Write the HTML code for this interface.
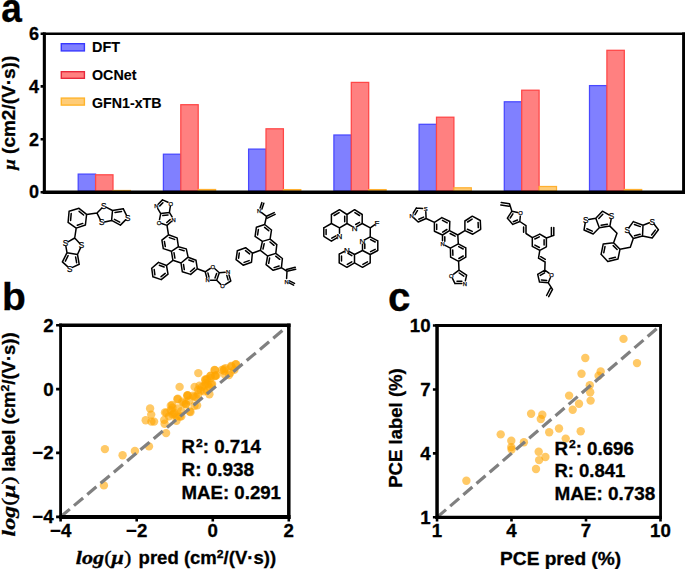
<!DOCTYPE html>
<html><head><meta charset="utf-8"><style>
html,body{margin:0;padding:0;background:#fff;}
svg{display:block;}
text{font-family:"Liberation Sans",sans-serif;font-weight:bold;fill:#000;stroke:#000;stroke-width:0.3;}
.bb{fill:#8080ff;stroke:#4848ff;stroke-width:1.25;}
.br{fill:#ff8080;stroke:#ff4646;stroke-width:1.25;}
.bo{fill:#ffcc77;stroke:#ffb030;stroke-width:1.25;}
.ax{fill:none;stroke:#000;stroke-width:2.9;}
.tk{stroke:#000;stroke-width:2.6;}
.dash{stroke:#808080;stroke-width:3.2;stroke-dasharray:11.9 5.45;fill:none;}
.dots circle{fill:rgba(255,165,0,0.6);}
.serif{font-family:"Liberation Serif",serif;}
.lg text{stroke-width:0.12;}
.mol{fill:none;stroke:#000;stroke-width:1.5;stroke-linejoin:round;stroke-linecap:round;}
.mt{font-family:"Liberation Sans",sans-serif;font-weight:normal;fill:#000;stroke:#000;stroke-width:0.25;}
</style></head><body>
<svg width="685" height="569" viewBox="0 0 685 569">
<!-- panel letters -->
<text x="1.3" y="22" font-size="40" textLength="20.6" lengthAdjust="spacingAndGlyphs">a</text>
<text x="2" y="310.3" font-size="39">b</text>
<text x="388" y="311" font-size="40" textLength="22.4" lengthAdjust="spacingAndGlyphs">c</text>

<!-- Panel a -->
<rect class="bb" x="78.2" y="174.1" width="17.4" height="16.9"/><rect class="br" x="95.6" y="174.8" width="17.4" height="16.2"/><rect class="bo" x="113.0" y="190.5" width="17.4" height="0.5"/><rect class="bb" x="163.4" y="154.2" width="17.4" height="36.8"/><rect class="br" x="180.8" y="104.7" width="17.4" height="86.3"/><rect class="bo" x="198.2" y="189.5" width="17.4" height="1.5"/><rect class="bb" x="248.6" y="149.1" width="17.4" height="41.9"/><rect class="br" x="266.0" y="128.8" width="17.4" height="62.2"/><rect class="bo" x="283.4" y="189.6" width="17.4" height="1.4"/><rect class="bb" x="333.9" y="135.0" width="17.4" height="56.0"/><rect class="br" x="351.3" y="82.4" width="17.4" height="108.6"/><rect class="bo" x="368.7" y="189.6" width="17.4" height="1.4"/><rect class="bb" x="419.1" y="124.3" width="17.4" height="66.7"/><rect class="br" x="436.5" y="117.2" width="17.4" height="73.8"/><rect class="bo" x="453.9" y="187.8" width="17.4" height="3.2"/><rect class="bb" x="504.3" y="101.8" width="17.4" height="89.2"/><rect class="br" x="521.7" y="90.2" width="17.4" height="100.8"/><rect class="bo" x="539.1" y="186.5" width="17.4" height="4.5"/><rect class="bb" x="589.5" y="85.6" width="17.4" height="105.4"/><rect class="br" x="606.9" y="50.3" width="17.4" height="140.7"/><rect class="bo" x="624.3" y="189.5" width="17.4" height="1.5"/>
<g stroke="#000" fill="none"><path stroke-width="2.6" d="M42.80,33.75H685.10"/><path stroke-width="3.3" d="M42.80,192.25H685.10"/><path stroke-width="3.1" d="M44.35,32.45V193.90"/><path stroke-width="3.0" d="M683.6,32.45V193.90"/></g>
<path class="tk" d="M40.6,192.2H44.3M40.6,139.3H44.3M40.6,86.4H44.3M40.6,33.7H44.3"/>
<g font-size="18" text-anchor="end">
<text x="39" y="198.4">0</text><text x="39" y="145.5">2</text><text x="39" y="92.6">4</text><text x="39" y="39.9">6</text>
</g>
<text transform="translate(14.6,112.8) rotate(-90)" font-size="17.5" text-anchor="middle" textLength="114" lengthAdjust="spacingAndGlyphs"><tspan class="serif" font-style="italic">μ</tspan> (cm2/(V·s))</text>
<!-- legend -->
<rect class="bb" x="61.3" y="43.7" width="23.1" height="7.2" style="stroke:#3838ff;stroke-width:1.4"/>
<rect class="br" x="61.3" y="71.7" width="23.1" height="6.6" style="stroke:#e8283c;stroke-width:1.4"/>
<rect class="bo" x="61.3" y="98.1" width="23.1" height="7.0" style="stroke:#ffb42c;stroke-width:1.4"/>
<g font-size="14.2" class="lg"><text x="92" y="51.7" textLength="28" lengthAdjust="spacingAndGlyphs">DFT</text><text x="92" y="80.2" textLength="44.5" lengthAdjust="spacingAndGlyphs">OCNet</text><text x="92" y="107.8" textLength="69.5" lengthAdjust="spacingAndGlyphs">GFN1-xTB</text></g>

<!-- molecules -->
<g class="mol"><path d="M79.0,208.3L86.6,214.4M86.6,214.4L85.4,225.0M85.4,225.0L76.2,228.1M76.2,228.1L68.1,222.4M68.1,222.4L69.1,211.2M69.1,211.2L79.0,208.3M79.0,208.3L86.6,214.4M79.1,211.3L83.6,215.0M69.1,211.2L68.1,222.4M71.2,213.6L70.6,220.4M85.4,225.0L76.2,228.1M82.8,223.4L77.3,225.3M86.6,214.4L97.0,213.1M97.0,213.1L101.7,208.2M106.5,207.4L112.5,210.5M97.0,213.1L100.4,219.8M104.6,221.9L111.6,220.4M112.5,210.5L111.6,220.4M123.3,208.8L126.4,215.1M125.6,219.9L120.4,225.1M112.5,210.5L123.3,208.8M115.0,212.4L121.5,211.4M111.6,220.4L120.4,225.1M114.4,219.3L119.7,222.1M76.2,228.1L74.7,238.0M74.7,238.0L68.0,241.9M65.9,246.4L67.0,252.7M74.7,238.0L79.6,243.2M80.4,248.1L77.5,254.5M67.0,252.7L77.5,254.5M62.4,261.9L67.6,266.6M72.5,267.4L79.2,264.3M67.0,252.7L62.4,261.9M68.1,255.6L65.4,261.1M77.5,254.5L79.2,264.3M75.6,256.9L76.6,262.7M158.4,204.0L162.5,199.9M162.5,199.9L168.0,202.3M170.3,206.5L169.4,212.4M169.4,212.4L160.7,213.6M160.7,213.6L157.8,208.7M160.7,213.6L159.5,219.6M161.7,223.5L167.0,225.4M167.0,225.4L171.4,221.5M172.1,216.9L169.4,212.4M158.4,204.0L162.5,199.9M159.8,205.9L162.9,202.8M169.4,212.4L160.7,213.6M168.0,214.9L162.8,215.6M167.0,225.4L171.4,221.5M166.8,222.5L170.1,219.6M168.5,234.8L177.1,237.9M177.1,237.9L178.4,246.7M178.4,246.7L171.4,251.3M171.4,251.3L163.3,248.6M163.3,248.6L161.9,240.1M161.9,240.1L168.5,234.8M178.4,246.7L186.3,248.9M186.3,248.9L188.1,257.2M188.1,257.2L181.0,263.0M181.0,263.0L172.9,260.3M172.9,260.3L171.4,251.3M188.1,257.2L196.0,260.3M196.0,260.3L197.3,268.7M197.3,268.7L190.7,274.4M190.7,274.4L182.3,271.7M182.3,271.7L181.0,263.0M168.5,234.8L177.1,237.9M169.4,237.6L174.6,239.4M163.3,248.6L161.9,240.1M165.3,246.5L164.4,241.4M178.4,246.7L186.3,248.9M179.4,249.4L184.1,250.7M172.9,260.3L171.4,251.3M174.9,258.1L174.0,252.7M188.1,257.2L196.0,260.3M188.8,260.0L193.6,261.8M197.3,268.7L190.7,274.4M194.5,268.1L190.5,271.5M182.3,271.7L181.0,263.0M184.3,269.6L183.5,264.4M167.0,225.4L168.5,234.8M166.5,265.5L158.5,262.4M158.5,262.4L151.7,268.2M151.7,268.2L152.9,276.8M152.9,276.8L161.2,279.6M161.2,279.6L168.0,274.1M168.0,274.1L166.5,265.5M172.9,260.3L166.5,265.5M166.5,265.5L158.5,262.4M164.1,267.0L159.3,265.2M151.7,268.2L152.9,276.8M154.2,269.6L154.9,274.8M161.2,279.6L168.0,274.1M161.1,276.7L165.2,273.4M197.3,268.7L205.2,271.8M205.2,271.8L210.2,268.5M214.9,268.8L219.3,272.7M219.3,272.7L216.7,280.3M216.7,280.3L210.5,280.3M206.7,277.4L205.2,271.8M219.3,272.7L225.2,272.3M229.0,275.0L230.8,281.0M230.8,281.0L225.1,284.6M220.5,284.1L216.7,280.3M205.2,271.8L206.7,277.4M207.9,272.9L209.0,277.1M219.3,272.7L216.7,280.3M216.6,273.5L215.0,278.0M229.0,275.0L230.8,281.0M226.8,275.4L228.1,279.9M264.7,224.5L271.5,230.0M271.5,230.0L270.1,239.1M270.1,239.1L262.4,241.4M262.4,241.4L255.1,236.4M255.1,236.4L256.4,227.2M256.4,227.2L264.7,224.5M264.7,224.5L271.5,230.0M264.6,227.4L268.7,230.7M255.1,236.4L256.4,227.2M257.6,234.9L258.4,229.4M270.1,239.1L276.8,244.7M276.8,244.7L275.8,253.4M275.8,253.4L267.6,256.0M267.6,256.0L260.4,250.3M260.4,250.3L262.4,241.4M270.1,239.1L276.8,244.7M270.0,242.0L274.0,245.3M260.4,250.3L262.4,241.4M263.0,249.0L264.2,243.7M275.8,253.4L282.4,258.5M282.4,258.5L281.4,267.7M281.4,267.7L273.2,270.3M273.2,270.3L266.1,264.6M266.1,264.6L267.6,256.0M275.8,253.4L282.4,258.5M275.7,256.2L279.7,259.3M281.4,267.7L273.2,270.3M279.1,266.0L274.1,267.6M266.1,264.6L267.6,256.0M268.7,263.3L269.6,258.1M264.7,224.5L266.5,216.3M266.5,216.3L261.6,212.6M266.5,216.3L274.2,212.6M267.4,218.1L275.1,214.4M260.1,208.0L261.9,202.6M261.9,209.0L263.8,203.2M281.4,267.7L287.0,271.3M287.0,271.3L286.6,278.5M287.0,271.3L295.7,269.2M286.5,269.4L295.2,267.3M289.2,282.9L293.6,285.1M289.5,280.8L294.5,283.3M252.4,253.2L245.6,247.7M245.6,247.7L237.3,250.8M237.3,250.8L236.1,259.7M236.1,259.7L243.2,265.2M243.2,265.2L251.5,262.2M251.5,262.2L252.4,253.2M260.4,250.3L252.4,253.2M252.4,253.2L245.6,247.7M249.6,253.9L245.5,250.6M237.3,250.8L236.1,259.7M239.3,252.9L238.6,258.2M243.2,265.2L251.5,262.2M244.1,262.4L249.1,260.6M331.4,214.5L339.5,209.7M339.5,209.7L347.0,214.5M347.0,214.5L347.0,223.5M347.0,223.5L339.5,227.8M339.5,227.8L331.4,223.5M331.4,223.5L331.4,214.5M347.0,214.5L354.6,209.7M354.6,209.7L362.2,214.5M362.2,214.5L362.2,223.5M362.2,223.5L357.2,226.3M352.0,226.3L347.0,223.5M331.4,223.5L323.8,227.8M323.8,227.8L323.8,236.3M323.8,236.3L331.4,241.1M331.4,241.1L336.9,237.8M339.5,233.3L339.5,227.8M331.4,214.5L339.5,209.7M334.2,215.5L339.1,212.6M347.0,214.5L347.0,223.5M344.7,216.3L344.7,221.7M354.6,209.7L362.2,214.5M354.9,212.6L359.5,215.5M362.2,223.5L357.2,226.3M359.5,222.4L355.7,224.5M323.8,227.8L323.8,236.3M326.1,229.5L326.1,234.6M331.4,241.1L336.9,237.8M331.8,238.2L335.9,235.8M362.2,223.5L370.3,227.8M370.3,227.8L374.5,224.8M370.2,236.8L377.8,240.8M377.8,240.8L377.8,250.5M377.8,250.5L370.2,254.5M370.2,254.5L362.5,250.5M362.5,250.5L362.5,244.2M365.1,239.7L370.2,236.8M362.5,250.5L370.2,254.5M370.2,254.5L370.2,262.9M370.2,262.9L362.5,267.3M362.5,267.3L354.5,262.9M354.5,262.9L354.5,254.5M354.5,254.5L362.5,250.5M354.5,254.5L349.5,251.6M344.2,251.5L339.2,254.1M339.2,254.1L339.2,262.9M339.2,262.9L346.9,267.3M346.9,267.3L354.5,262.9M370.2,236.8L377.8,240.8M370.6,239.6L375.2,242.0M377.8,250.5L370.2,254.5M375.2,249.3L370.6,251.7M362.5,244.2L362.5,250.5M364.8,244.0L364.8,248.6M370.2,262.9L362.5,267.3M367.5,261.8L362.9,264.4M339.2,254.1L339.2,262.9M341.5,255.9L341.5,261.1M346.9,267.3L354.5,262.9M347.3,264.4L351.8,261.8M354.5,254.5L349.5,251.6M351.8,255.6L348.0,253.4M370.3,227.8L370.2,236.8M416.4,207.9L422.6,208.5M425.8,211.8L426.1,218.5M426.1,218.5L418.2,222.0M418.2,222.0L413.8,217.9M413.2,213.2L416.4,207.9M426.1,218.5L418.2,222.0M423.6,217.1L418.8,219.2M413.2,213.2L416.4,207.9M415.0,214.6L417.4,210.7M434.4,222.4L441.9,217.6M441.9,217.6L449.8,221.5M449.8,221.5L449.5,230.6M449.5,230.6L442.5,235.0M442.5,235.0L434.4,231.2M434.4,231.2L434.4,222.4M426.1,218.5L434.4,222.4M441.9,217.6L449.8,221.5M442.5,220.4L447.2,222.8M434.4,231.2L434.4,222.4M436.7,229.4L436.7,224.2M449.5,230.6L442.5,235.0M446.9,229.5L442.7,232.2M449.5,230.6L457.8,235.0M457.8,235.0L458.3,243.8M458.3,243.8L450.4,248.2M450.4,248.2L445.1,245.3M442.5,240.8L442.5,235.0M449.5,230.6L457.8,235.0M450.1,233.5L455.1,236.2M442.5,240.8L442.5,235.0M444.8,241.2L444.8,236.8M458.3,243.8L465.8,247.8M465.8,247.8L465.8,257.2M465.8,257.2L458.6,261.3M458.6,261.3L450.6,257.2M450.6,257.2L450.4,248.2M458.3,243.8L465.8,247.8M458.7,246.6L463.2,249.0M465.8,257.2L458.6,261.3M463.2,256.0L458.9,258.5M450.6,257.2L450.4,248.2M452.9,255.3L452.7,249.9M464.9,230.6L464.9,221.0M464.9,221.0L472.3,216.2M472.3,216.2L480.3,220.5M480.3,220.5L480.7,229.3M480.7,229.3L472.8,234.2M472.8,234.2L464.9,230.6M457.8,235.0L464.9,230.6M464.9,221.0L472.3,216.2M467.6,222.0L472.1,219.1M480.3,220.5L480.7,229.3M478.1,222.4L478.3,227.6M472.8,234.2L464.9,230.6M472.2,231.4L467.4,229.2M458.6,261.3L459.0,270.1M459.0,270.1L453.7,274.1M452.6,278.6L455.0,283.6M455.0,283.6L461.8,283.6M465.4,280.7L466.6,275.2M466.6,275.2L459.0,270.1M459.0,270.1L466.6,275.2M459.2,273.0L463.8,276.1M455.0,283.6L461.8,283.6M457.0,281.3L461.9,281.3M509.5,203.8L501.2,202.5M509.1,206.2L500.8,204.9M509.5,203.8L511.9,211.2M511.9,211.2L517.7,212.6M520.3,216.3L519.8,221.5M519.8,221.5L512.8,224.4M512.8,224.4L507.4,218.2M507.4,218.2L511.9,211.2M507.4,218.2L511.9,211.2M510.2,218.0L512.9,213.8M519.8,221.5L512.8,224.4M517.5,220.0L513.3,221.7M519.8,221.5L526.0,225.7M526.0,225.7L526.0,233.5M523.6,226.9L523.6,232.3M539.8,234.1L546.4,238.0M546.4,238.0L546.4,246.8M546.4,246.8L539.8,250.3M539.8,250.3L532.3,246.4M532.3,246.4L532.3,237.6M532.3,237.6L539.8,234.1M532.3,237.6L539.8,234.1M534.8,239.0L539.3,236.9M546.4,238.0L546.4,246.8M544.1,239.8L544.1,245.0M539.8,250.3L532.3,246.4M539.4,247.5L534.9,245.1M526.0,233.5L532.3,237.6M546.4,238.0L553.8,235.4M553.8,235.4L553.8,227.5M551.4,235.4L551.4,227.5M539.8,250.3L538.5,258.2M538.5,258.2L545.1,262.0M540.7,256.7L545.3,259.4M545.1,262.0L544.8,270.1M544.8,270.1L549.0,273.2M550.3,277.8L548.3,282.8M548.3,282.8L539.5,282.1M539.5,282.1L537.7,274.3M537.7,274.3L544.8,270.1M537.7,274.3L544.8,270.1M540.3,275.4L544.6,272.9M548.3,282.8L539.5,282.1M546.7,280.4L541.4,279.9M548.3,282.8L552.5,289.3M552.5,289.3L548.7,296.6M550.4,288.2L546.6,295.5M602.4,211.2L609.0,214.9M611.1,219.4L609.9,226.1M609.9,226.1L599.3,227.8M599.3,227.8L595.8,218.2M595.8,218.2L602.4,211.2M595.8,218.2L588.7,219.4M585.2,222.9L584.0,230.0M584.0,230.0L593.2,234.0M593.2,234.0L599.3,227.8M595.8,218.2L602.4,211.2M598.8,218.4L602.8,214.2M609.9,226.1L599.3,227.8M607.4,224.2L601.1,225.2M584.0,230.0L593.2,234.0M586.8,228.7L592.3,231.1M613.6,242.7L620.0,249.2M620.0,249.2L618.0,258.9M618.0,258.9L607.8,261.5M607.8,261.5L601.1,254.3M601.1,254.3L603.2,244.1M603.2,244.1L613.6,242.7M613.6,242.7L620.0,249.2M613.2,245.6L617.1,249.5M618.0,258.9L607.8,261.5M615.4,257.2L609.3,258.8M601.1,254.3L603.2,244.1M603.8,252.7L605.0,246.6M609.9,226.1L617.0,233.3M617.0,233.3L613.6,242.7M620.0,249.2L630.3,247.2M630.3,247.2L633.3,238.5M633.3,238.5L629.0,232.7M628.9,227.8L633.3,221.6M633.3,221.6L643.0,225.2M643.0,225.2L642.5,236.0M642.5,236.0L633.3,238.5M643.0,225.2L649.4,222.7M654.0,224.0L658.4,229.8M658.4,229.8L652.2,238.0M652.2,238.0L642.5,236.0M633.3,221.6L643.0,225.2M634.4,224.5L640.3,226.6M633.3,238.5L642.5,236.0M634.5,235.8L640.1,234.3M658.4,229.8L652.2,238.0M655.3,230.1L651.6,235.0"/><text class="mt" x="103.8" y="208.9" font-size="8.2" text-anchor="middle">S</text><text class="mt" x="101.7" y="225.4" font-size="8.2" text-anchor="middle">S</text><text class="mt" x="127.7" y="220.7" font-size="8.2" text-anchor="middle">S</text><text class="mt" x="65.4" y="246.3" font-size="8.2" text-anchor="middle">S</text><text class="mt" x="81.6" y="248.3" font-size="8.2" text-anchor="middle">S</text><text class="mt" x="69.8" y="271.5" font-size="8.2" text-anchor="middle">S</text><text class="mt" x="156.3" y="208.1" font-size="5.8" text-anchor="middle">N</text><text class="mt" x="170.7" y="205.5" font-size="5.8" text-anchor="middle">O</text><text class="mt" x="158.9" y="224.5" font-size="5.8" text-anchor="middle">O</text><text class="mt" x="173.6" y="221.5" font-size="5.8" text-anchor="middle">N</text><text class="mt" x="212.7" y="268.8" font-size="5.8" text-anchor="middle">O</text><text class="mt" x="207.5" y="282.3" font-size="5.8" text-anchor="middle">N</text><text class="mt" x="228.2" y="274.1" font-size="5.8" text-anchor="middle">N</text><text class="mt" x="222.6" y="288.2" font-size="5.8" text-anchor="middle">O</text><text class="mt" x="259.2" y="212.8" font-size="5.8" text-anchor="middle">N</text><text class="mt" x="286.5" y="283.5" font-size="5.8" text-anchor="middle">N</text><text class="mt" x="354.6" y="230.6" font-size="8.0" text-anchor="middle">N</text><text class="mt" x="339.5" y="239.1" font-size="8.0" text-anchor="middle">N</text><text class="mt" x="376.9" y="225.8" font-size="8.0" text-anchor="middle">F</text><text class="mt" x="362.5" y="244.0" font-size="8.0" text-anchor="middle">N</text><text class="mt" x="346.9" y="252.9" font-size="8.0" text-anchor="middle">N</text><text class="mt" x="425.6" y="210.8" font-size="5.8" text-anchor="middle">S</text><text class="mt" x="411.6" y="217.8" font-size="5.8" text-anchor="middle">N</text><text class="mt" x="442.5" y="245.8" font-size="5.8" text-anchor="middle">N</text><text class="mt" x="451.3" y="277.9" font-size="5.8" text-anchor="middle">O</text><text class="mt" x="464.8" y="285.6" font-size="5.8" text-anchor="middle">N</text><text class="mt" x="520.6" y="215.3" font-size="5.8" text-anchor="middle">O</text><text class="mt" x="551.4" y="277.0" font-size="5.8" text-anchor="middle">O</text><text class="mt" x="611.6" y="219.3" font-size="8.2" text-anchor="middle">S</text><text class="mt" x="585.7" y="222.8" font-size="8.2" text-anchor="middle">S</text><text class="mt" x="627.2" y="233.2" font-size="8.2" text-anchor="middle">S</text><text class="mt" x="652.2" y="224.5" font-size="8.2" text-anchor="middle">S</text></g>

<!-- Panel b -->
<g class="dots"><circle cx="104.9" cy="449.1" r="4.2"/><circle cx="122.6" cy="455.3" r="4.2"/><circle cx="134.9" cy="451.0" r="4.2"/><circle cx="149.0" cy="446.4" r="4.2"/><circle cx="103.9" cy="485.4" r="4.2"/><circle cx="166.1" cy="433.1" r="4.2"/><circle cx="150.1" cy="408.5" r="4.2"/><circle cx="151.2" cy="414.6" r="4.2"/><circle cx="145.7" cy="420.3" r="4.2"/><circle cx="151.4" cy="421.6" r="4.2"/><circle cx="154.1" cy="421.6" r="4.2"/><circle cx="165.0" cy="412.4" r="4.2"/><circle cx="164.2" cy="419.9" r="4.2"/><circle cx="164.6" cy="423.8" r="4.2"/><circle cx="172.1" cy="404.9" r="4.2"/><circle cx="170.8" cy="410.2" r="4.2"/><circle cx="172.5" cy="414.6" r="4.2"/><circle cx="176.9" cy="416.4" r="4.2"/><circle cx="176.5" cy="420.8" r="4.2"/><circle cx="177.8" cy="398.8" r="4.2"/><circle cx="181.3" cy="416.4" r="4.2"/><circle cx="183.9" cy="403.2" r="4.2"/><circle cx="187.5" cy="395.3" r="4.2"/><circle cx="190.5" cy="412.0" r="4.2"/><circle cx="194.5" cy="405.8" r="4.2"/><circle cx="196.2" cy="397.0" r="4.2"/><circle cx="198.3" cy="373.1" r="4.2"/><circle cx="179.6" cy="386.9" r="4.2"/><circle cx="235.8" cy="364.5" r="4.2"/><circle cx="231.5" cy="366.6" r="4.2"/><circle cx="230.3" cy="372.8" r="4.2"/><circle cx="224.2" cy="369.1" r="4.2"/><circle cx="224.8" cy="374.6" r="4.2"/><circle cx="214.9" cy="370.3" r="4.2"/><circle cx="215.5" cy="375.8" r="4.2"/><circle cx="206.9" cy="378.9" r="4.2"/><circle cx="210.6" cy="375.8" r="4.2"/><circle cx="205.7" cy="383.2" r="4.2"/><circle cx="194.6" cy="386.9" r="4.2"/><circle cx="199.5" cy="385.7" r="4.2"/><circle cx="200.8" cy="390.6" r="4.2"/><circle cx="206.9" cy="390.6" r="4.2"/><circle cx="209.4" cy="394.3" r="4.2"/><circle cx="194.6" cy="396.8" r="4.2"/><circle cx="187.8" cy="395.5" r="4.2"/><circle cx="182.3" cy="401.7" r="4.2"/><circle cx="177.4" cy="399.2" r="4.2"/><circle cx="186.0" cy="404.2" r="4.2"/><circle cx="197.1" cy="405.4" r="4.2"/><circle cx="189.7" cy="411.5" r="4.2"/><circle cx="172.5" cy="407.8" r="4.2"/><circle cx="173.7" cy="414.0" r="4.2"/><circle cx="179.8" cy="416.5" r="4.2"/><circle cx="235.9" cy="364.2" r="4.2"/><circle cx="231.2" cy="365.9" r="4.2"/><circle cx="225.5" cy="368.1" r="4.2"/><circle cx="222.0" cy="369.9" r="4.2"/><circle cx="214.5" cy="369.9" r="4.2"/><circle cx="216.7" cy="375.1" r="4.2"/><circle cx="210.5" cy="376.0" r="4.2"/><circle cx="205.3" cy="379.5" r="4.2"/><circle cx="229.0" cy="375.1" r="4.2"/><circle cx="234.3" cy="369.9" r="4.2"/><circle cx="211.4" cy="384.8" r="4.2"/><circle cx="204.4" cy="385.7" r="4.2"/><circle cx="201.9" cy="386.9" r="4.2"/><circle cx="207.7" cy="384.0" r="4.2"/><circle cx="198.2" cy="389.8" r="4.2"/><circle cx="204.1" cy="391.3" r="4.2"/><circle cx="209.2" cy="386.9" r="4.2"/><circle cx="212.1" cy="384.0" r="4.2"/><circle cx="193.1" cy="395.7" r="4.2"/><circle cx="198.2" cy="394.2" r="4.2"/><circle cx="187.3" cy="395.7" r="4.2"/><circle cx="205.5" cy="380.3" r="4.2"/><circle cx="210.7" cy="378.1" r="4.2"/><circle cx="215.0" cy="376.0" r="4.2"/><circle cx="223.8" cy="370.8" r="4.2"/><circle cx="177.8" cy="408.5" r="4.2"/><circle cx="174.3" cy="412.8" r="4.2"/><circle cx="181.3" cy="411.1" r="4.2"/><circle cx="189.2" cy="400.5" r="4.2"/><circle cx="185.7" cy="404.1" r="4.2"/><circle cx="169.0" cy="416.4" r="4.2"/><circle cx="166.4" cy="412.8" r="4.2"/><circle cx="170.8" cy="405.8" r="4.2"/></g>
<path class="dash" d="M60.7,516.8 L288.8,325.2"/>
<g stroke="#000" fill="none"><path stroke-width="3.3" d="M59.18,325.25H290.55"/><path stroke-width="3.9" d="M59.18,516.95H290.55"/><path stroke-width="2.85" d="M60.6,323.60V518.90"/><path stroke-width="3.5" d="M288.8,323.60V518.90"/></g>
<path class="tk" d="M56.1,325.2H60.7M56.1,389.1H60.7M56.1,452.9H60.7M56.1,516.9H60.7 M60.6,516.8V521.4M136.7,516.8V521.4M212.8,516.8V521.4M288.8,516.8V521.4"/>
<g font-size="18.7" text-anchor="end">
<text x="53.6" y="331.7">2</text><text x="53.6" y="395.6">0</text><text x="53.6" y="459.4">−2</text><text x="53.6" y="523.3">−4</text>
</g>
<g font-size="18.7" text-anchor="middle">
<text x="60.7" y="537.3">−4</text><text x="136.7" y="537.3">−2</text><text x="212.8" y="537.3">0</text><text x="288.8" y="537.3">2</text>
</g>
<g font-size="17.8"><text x="181.5" y="453.3" textLength="79.5" lengthAdjust="spacingAndGlyphs">R<tspan font-size="11.5" dx="1" dy="-6.5">2</tspan><tspan dy="6.5">: 0.714</tspan></text><text x="181.5" y="475.7" textLength="72.5" lengthAdjust="spacingAndGlyphs">R: 0.938</text><text x="181.5" y="498.5" textLength="99.5" lengthAdjust="spacingAndGlyphs">MAE: 0.291</text></g>
<g transform="translate(15.1,0) rotate(-90)"><text class="serif" x="-536.4" y="0" font-size="18" textLength="60" lengthAdjust="spacingAndGlyphs"><tspan font-style="italic">log</tspan><tspan font-weight="normal">(</tspan><tspan font-style="italic">μ</tspan><tspan font-weight="normal">)</tspan></text><text x="-471.8" y="0" font-size="17.5" textLength="139.5" lengthAdjust="spacingAndGlyphs">label (cm<tspan font-size="11.5" dy="-6.5">2</tspan><tspan dy="6.5">/(V·s))</tspan></text></g>
<text class="serif" x="75.8" y="564.3" font-size="18" textLength="55.5" lengthAdjust="spacingAndGlyphs"><tspan font-style="italic">log</tspan><tspan font-weight="normal">(</tspan><tspan font-style="italic">μ</tspan><tspan font-weight="normal">)</tspan></text><text x="138.6" y="564.3" font-size="17.5" textLength="137.5" lengthAdjust="spacingAndGlyphs">pred (cm<tspan font-size="11.5" dy="-6.5">2</tspan><tspan dy="6.5">/(V·s))</tspan></text>

<!-- Panel c -->
<g class="dots"><circle cx="466.4" cy="480.8" r="4.2"/><circle cx="500.7" cy="434.4" r="4.2"/><circle cx="511.3" cy="440.7" r="4.2"/><circle cx="511.3" cy="447.1" r="4.2"/><circle cx="523.9" cy="442.2" r="4.2"/><circle cx="531.1" cy="413.7" r="4.2"/><circle cx="542.3" cy="414.8" r="4.2"/><circle cx="540.8" cy="419.0" r="4.2"/><circle cx="549.2" cy="432.3" r="4.2"/><circle cx="559.0" cy="428.5" r="4.2"/><circle cx="538.7" cy="451.7" r="4.2"/><circle cx="545.4" cy="457.0" r="4.2"/><circle cx="539.1" cy="460.1" r="4.2"/><circle cx="536.0" cy="469.0" r="4.2"/><circle cx="623.5" cy="338.9" r="4.2"/><circle cx="637.0" cy="363.1" r="4.2"/><circle cx="585.3" cy="358.0" r="4.2"/><circle cx="581.5" cy="373.7" r="4.2"/><circle cx="600.7" cy="371.5" r="4.2"/><circle cx="598.6" cy="375.8" r="4.2"/><circle cx="589.8" cy="385.3" r="4.2"/><circle cx="590.2" cy="392.2" r="4.2"/><circle cx="590.6" cy="400.6" r="4.2"/><circle cx="569.1" cy="395.6" r="4.2"/><circle cx="579.0" cy="403.8" r="4.2"/><circle cx="572.7" cy="409.7" r="4.2"/><circle cx="580.7" cy="431.2" r="4.2"/><circle cx="565.7" cy="438.6" r="4.2"/><circle cx="511.6" cy="449.5" r="4.2"/></g>
<path class="dash" d="M437,517.4 L660.5,325.5"/>
<g stroke="#000" fill="none"><path stroke-width="3.0" d="M435.30,325.5H661.95"/><path stroke-width="3.2" d="M435.30,517.3H661.95"/><path stroke-width="3.5" d="M437.05,324.00V518.90"/><path stroke-width="2.8" d="M660.55,324.00V518.90"/></g>
<path class="tk" d="M432.9,325.5H437M432.9,389.5H437M432.9,453.4H437M432.9,517.3H437 M437.05,517.3V521.6M511.5,517.3V521.6M586,517.3V521.6M660.5,517.3V521.6"/>
<g font-size="18.7" text-anchor="end">
<text x="430.6" y="332">10</text><text x="430.6" y="396">7</text><text x="430.6" y="459.9">4</text><text x="430.6" y="523.9">1</text>
</g>
<g font-size="18.7" text-anchor="middle">
<text x="437" y="537.3">1</text><text x="511.5" y="537.3">4</text><text x="586" y="537.3">7</text><text x="660.5" y="537.3">10</text>
</g>
<g font-size="17.8"><text x="554.4" y="454.5" textLength="79.5" lengthAdjust="spacingAndGlyphs">R<tspan font-size="11.5" dx="1" dy="-6.5">2</tspan><tspan dy="6.5">: 0.696</tspan></text><text x="554.4" y="476.9" textLength="71" lengthAdjust="spacingAndGlyphs">R: 0.841</text><text x="554.4" y="500.1" textLength="101" lengthAdjust="spacingAndGlyphs">MAE: 0.738</text></g>
<text transform="translate(402.4,428) rotate(-90)" font-size="17.5" text-anchor="middle" textLength="119.5" lengthAdjust="spacingAndGlyphs">PCE label (%)</text>
<text x="560.6" y="564.9" font-size="17.5" text-anchor="middle" textLength="121" lengthAdjust="spacingAndGlyphs">PCE pred (%)</text>
</svg>
</body></html>
